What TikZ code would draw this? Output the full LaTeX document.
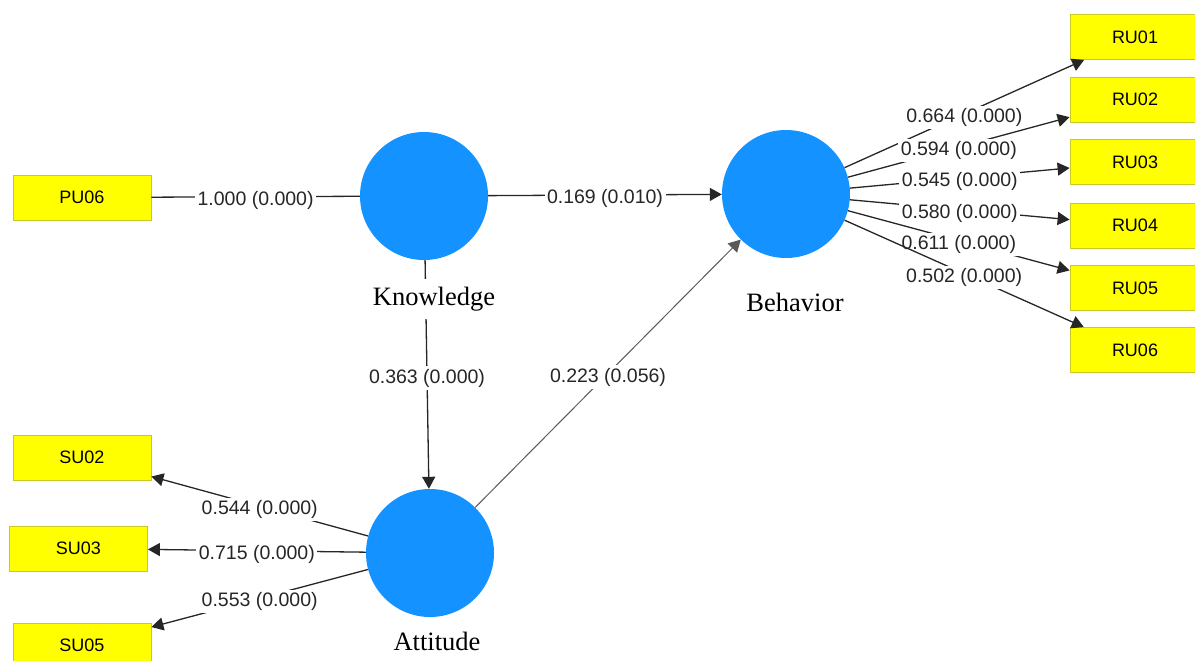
\documentclass[tikz,border=0pt]{standalone}
\usepackage{fontspec}
\setmainfont{Liberation Sans}
\newfontfamily\lblserif{Liberation Serif}
\usetikzlibrary{arrows.meta}
\definecolor{lvblue}{RGB}{20,146,255}
\definecolor{mvyellow}{RGB}{255,255,0}
\definecolor{mvborder}{RGB}{200,200,40}
\begin{document}
\begin{tikzpicture}[x=1pt,y=-1pt,
 lv/.style={circle, fill=lvblue, minimum size=128pt, inner sep=0pt},
 mv/.style={rectangle, fill=mvyellow, draw=mvborder, line width=0.8pt, minimum width=138pt, minimum height=45pt, inner sep=0pt, font=\fontsize{18}{20}\selectfont},
 mvr/.style={mv, minimum width=130pt},
 conn/.style={line width=1.3pt, draw=black!85},
 arr/.style={conn, -{Triangle[length=12pt,width=13pt]}},
 thin arr/.style={arr, line width=1pt, draw=black!65},
 coef/.style={fill=white, inner sep=2.5pt, yshift=-3.5pt, font=\fontsize{19.5}{21}\selectfont, text=black!85},
 lvname/.style={fill=white, inner xsep=2pt, inner ysep=8pt, font=\lblserif\fontsize{26.5}{28}\selectfont}]
\useasboundingbox (0,0) rectangle (1195,661);
\clip (0,0) rectangle (1195,661);
% latent variables
\node[lv] (K) at (424,196) {};
\node[lv] (B) at (786,194) {};
\node[lv] (A) at (430,553) {};
% indicators
\node[mv] (PU06) at (82,197.5) {PU06};
\node[mv] (SU02) at (82,457.5) {SU02};
\node[mv] (SU03) at (78.5,548.5) {SU03};
\node[mv] (SU05) at (82,645.5) {SU05};
\node[mvr] (RU01) at (1135,37) {RU01};
\node[mvr] (RU02) at (1135,99.5) {RU02};
\node[mvr] (RU03) at (1135,162) {RU03};
\node[mvr] (RU04) at (1135,225.5) {RU04};
\node[mvr] (RU05) at (1135,288) {RU05};
\node[mvr] (RU06) at (1135,350) {RU06};
% connectors
\draw[conn] (PU06) -- (K) node[coef,midway] {1.000 (0.000)};
\draw[arr] (K) -- (B) node[coef,midway] {0.169 (0.010)};
\draw[arr] (K) -- (A) node[coef,midway] {0.363 (0.000)};
\draw[thin arr] (A) -- (B) node[coef,midway] {0.223 (0.056)};
\draw[arr] (A) -- (SU02) node[coef,midway] {0.544 (0.000)};
\draw[arr] (A) -- (SU03) node[coef,midway] {0.715 (0.000)};
\draw[arr] (A) -- (SU05) node[coef,midway] {0.553 (0.000)};
\draw[arr] (B) -- (RU01) node[coef,midway] {0.664 (0.000)};
\draw[arr] (B) -- (RU02) node[coef,midway] {0.594 (0.000)};
\draw[arr] (B) -- (RU03) node[coef,midway] {0.545 (0.000)};
\draw[arr] (B) -- (RU04) node[coef,midway] {0.580 (0.000)};
\draw[arr] (B) -- (RU05) node[coef,midway] {0.611 (0.000)};
\draw[arr] (B) -- (RU06) node[coef,midway] {0.502 (0.000)};
% construct names
\node[lvname] (Kl) at (434,299) {Knowledge};
\node[lvname] (Bl) at (795,302) {Behavior};
\node[lvname] (Al) at (437,641) {Attitude};
\end{tikzpicture}
\end{document}
